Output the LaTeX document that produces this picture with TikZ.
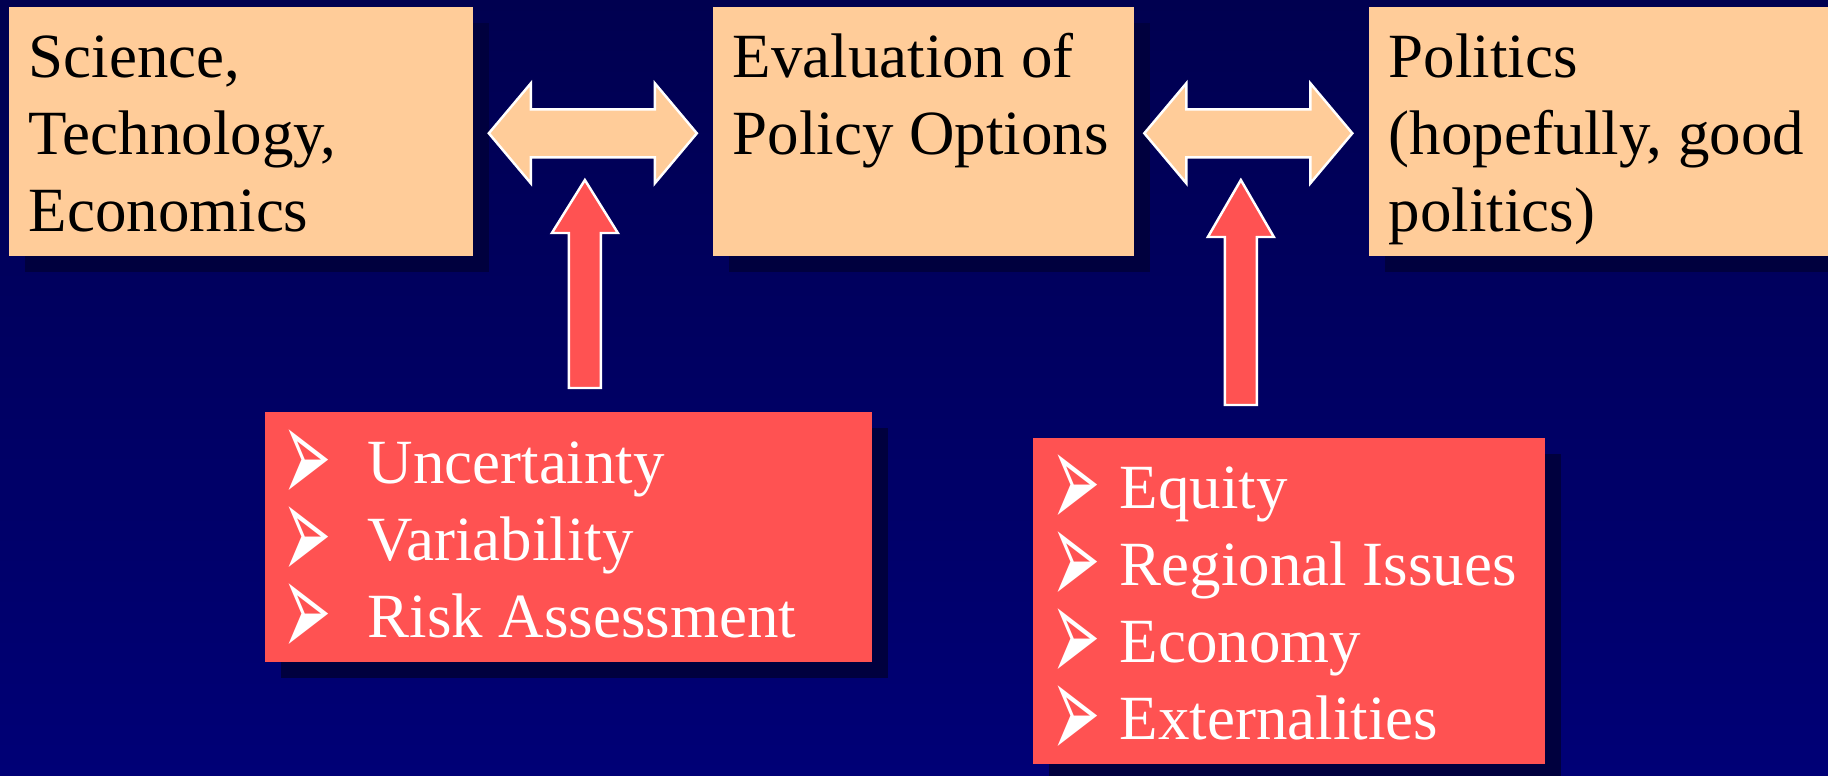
\documentclass[tikz,border=0pt]{standalone}
\usepackage{fontspec}
\setmainfont{Liberation Serif}
\newfontfamily\bulletfont{DejaVu Sans}
\usepackage{xcolor}
\usepackage{graphicx}
\usetikzlibrary{calc, positioning, shadows}

\definecolor{peach}{RGB}{255,204,153}
\definecolor{salmon}{RGB}{255,82,82}
\definecolor{navytop}{RGB}{0,0,80}
\definecolor{navymid}{RGB}{0,0,136}
\definecolor{navybot}{RGB}{0,0,118}
\definecolor{shadownavy}{RGB}{0,0,62}

\tikzset{box shadow/.style={drop shadow={shadow xshift=0.16cm, shadow yshift=-0.16cm, fill=shadownavy, opacity=1}}}

\newcommand{\pointer}[1]{\makebox[#1][l]{\hspace{-0.07cm}\smash{\raisebox{-0.2cm}{\scalebox{0.93}[2.2]{\bulletfont ➢}}}}}

\begin{document}
\begin{tikzpicture}[x=0.01cm,y=-0.01cm,
                    topic box/.style={rectangle,fill=peach,anchor=north west,inner sep=0pt,box shadow},
                    issue box/.style={rectangle,fill=salmon,anchor=north west,inner sep=0pt,box shadow},
                    box text/.style={anchor=north west,inner sep=0pt,align=left,font=\fontsize{17.9}{21.9}\selectfont},
                    link/.style={fill=peach,draw=white,line width=0.7pt},
                    push/.style={fill=salmon,draw=white,line width=0.7pt}]

%Background
 \useasboundingbox (0,0) rectangle (1828,775);
 \clip (0,0) rectangle (1828,775);
 \shade[top color=navytop,middle color=navymid,bottom color=navybot] (0,0) rectangle (1828,775);

%Top row of boxes
 \node[topic box,minimum width=4.64cm,minimum height=2.49cm] (Science) at (8,6) {};
 \node[box text] (ScienceText) at (28,23) {\strut Science,\\Technology,\\Economics};

 \node[topic box,minimum width=4.21cm,minimum height=2.49cm] (Evaluation) at (712,6) {};
 \node[box text] (EvaluationText) at (732,23) {\strut Evaluation of\\Policy Options};

 \node[topic box,minimum width=5cm,minimum height=2.49cm] (Politics) at (1368,6) {};
 \node[box text] (PoliticsText) at (1388,23) {\strut Politics\\(hopefully, good\\politics)};

%Double arrows between the boxes
 \coordinate (Link1) at ($(Science.east)!0.5!(Evaluation.west)$);
 \draw[link] ($(Link1)+(-104,2)$) -- ++(42,-50) -- ++(0,26) -- ++(124,0) -- ++(0,-26) -- ++(42,50)
   -- ++(-42,50) -- ++(0,-26) -- ++(-124,0) -- ++(0,26) -- cycle;

 \coordinate (Link2) at ($(Evaluation.east)!0.5!(Politics.west)$);
 \draw[link] ($(Link2)+(-107,2)$) -- ++(42,-50) -- ++(0,26) -- ++(124,0) -- ++(0,-26) -- ++(42,50)
   -- ++(-42,50) -- ++(0,-26) -- ++(-124,0) -- ++(0,26) -- cycle;

%Lower boxes
 \node[issue box,minimum width=6.07cm,minimum height=2.5cm] (RiskBox) at (264,411) {};
 \node[box text,text=white] (RiskText) at (289,429)
   {\strut\pointer{0.78cm}Uncertainty\\\pointer{0.78cm}Variability\\\pointer{0.78cm}Risk Assessment};

 \node[issue box,minimum width=5.12cm,minimum height=3.26cm] (SocietyBox) at (1032,437) {};
 \node[box text,text=white] (SocietyText) at (1058,454)
   {\strut\pointer{0.61cm}Equity\\\pointer{0.61cm}Regional Issues\\\pointer{0.61cm}Economy\\\pointer{0.61cm}Externalities};

%Arrows pushing up into the links
 \coordinate (Push1) at ($(RiskBox.north)+(16.5,-23)$);
 \draw[push] ($(Push1)+(-16,0)$) -- ++(0,-155) -- ++(-17,0) -- ++(33,-53) -- ++(33,53) -- ++(-17,0) -- ++(0,155) -- cycle;

 \coordinate (Push2) at ($(SocietyBox.north)+(-48,-32)$);
 \draw[push] ($(Push2)+(-16,0)$) -- ++(0,-168) -- ++(-17,0) -- ++(33,-57) -- ++(33,57) -- ++(-17,0) -- ++(0,168) -- cycle;

\end{tikzpicture}
\end{document}
